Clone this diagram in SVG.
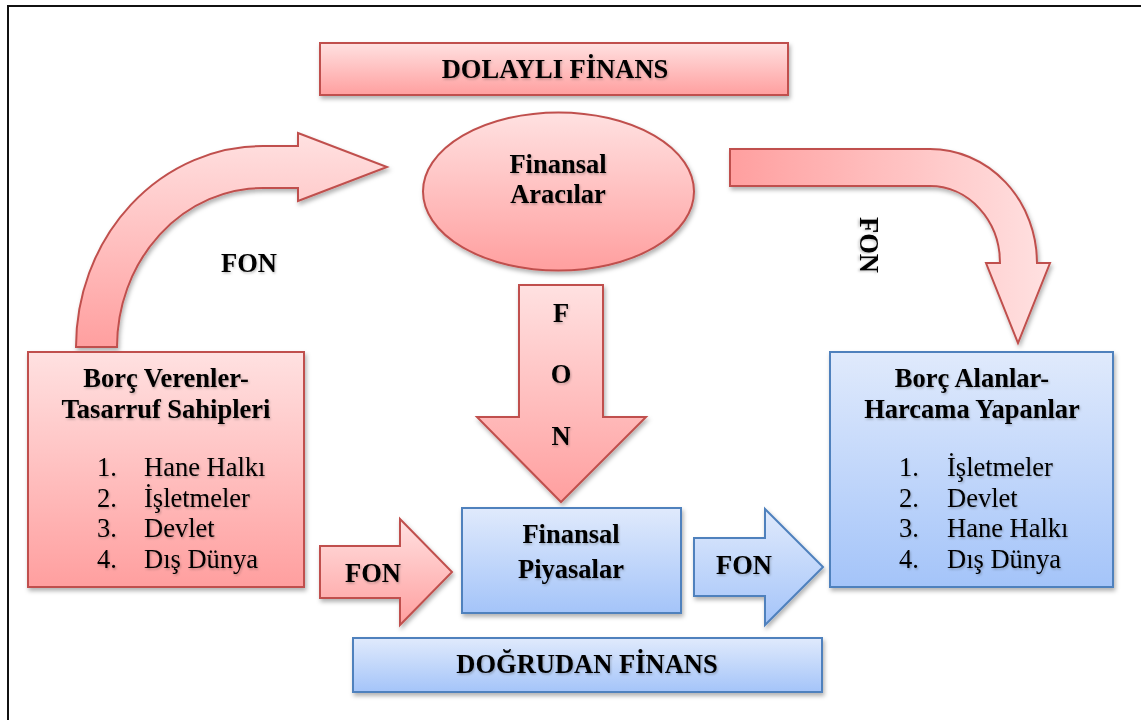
<svg xmlns="http://www.w3.org/2000/svg" width="1141" height="720" viewBox="0 0 1141 720">
<defs>
<linearGradient id="redV" x1="0" y1="0" x2="0" y2="1">
<stop offset="0" stop-color="#ffe1e1"/><stop offset="1" stop-color="#ff9f9f"/>
</linearGradient>
<linearGradient id="redH" x1="1" y1="0" x2="0" y2="0">
<stop offset="0" stop-color="#ffe1e1"/><stop offset="1" stop-color="#ff9f9f"/>
</linearGradient>
<linearGradient id="blueV" x1="0" y1="0" x2="0" y2="1">
<stop offset="0" stop-color="#e0eafc"/><stop offset="1" stop-color="#a4c4f9"/>
</linearGradient>
<filter id="sh" x="-10%" y="-10%" width="125%" height="130%">
<feDropShadow dx="1.5" dy="3" stdDeviation="2" flood-color="#000" flood-opacity="0.3"/>
</filter>
<filter id="tsh" x="-10%" y="-20%" width="130%" height="150%">
<feDropShadow dx="1" dy="1.5" stdDeviation="1" flood-color="#000" flood-opacity="0.25"/>
</filter>
</defs>
<style>
.red{fill:url(#redV);stroke:#c0504d;stroke-width:2;filter:url(#sh)}
.redh{fill:url(#redH);stroke:#c0504d;stroke-width:2;filter:url(#sh)}
.blue{fill:url(#blueV);stroke:#4f81bd;stroke-width:2;filter:url(#sh)}
.b{font-family:"Liberation Serif","Times New Roman",serif;font-weight:bold;font-size:26.5px;fill:#000;text-anchor:middle}
.t{font-family:"Liberation Serif","Times New Roman",serif;font-size:26.5px;fill:#000}
.ts{filter:url(#tsh)}
</style>
<rect width="1141" height="720" fill="#fff"/>
<g id="frame">
<line x1="7" y1="6" x2="1141" y2="6" stroke="#111" stroke-width="2"/>
<line x1="8" y1="5" x2="8" y2="720" stroke="#111" stroke-width="2"/>
</g>
<g id="connectors">
<g id="arrow-left-curved">
<path class="red" d="M76,347 A187,201 0 0 1 263,146 L298,146 L298,133 L387,167 L298,201 L298,188 L263,188 A146,159 0 0 0 117,347 Z"/>
<text class="b ts" x="249" y="272">FON</text>
</g>
<g id="arrow-right-curved">
<path class="redh" d="M730,149 L930,149 A107,114 0 0 1 1037,263 L1050,263 L1018,343 L986,263 L1000,263 A70,77 0 0 0 930,186 L730,186 Z"/>
<text class="b ts" transform="translate(860,245) rotate(90)">FON</text>
</g>
<g id="arrow-down">
<path class="red" d="M519,285 L603,285 L603,417 L646,417 L561,502 L477,417 L519,417 Z"/>
<text class="b ts" x="561" y="322">F</text>
<text class="b ts" x="561" y="383">O</text>
<text class="b ts" x="561" y="445">N</text>
</g>
<g id="arrow-left-straight">
<path class="red" d="M320,546 L400,546 L400,519 L452,572 L400,625 L400,598 L320,598 Z"/>
<text class="b ts" x="373" y="582">FON</text>
</g>
<g id="arrow-right-straight">
<path class="blue" d="M694,538 L765,538 L765,509 L823,567 L765,625 L765,596 L694,596 Z"/>
<text class="b ts" x="744" y="574">FON</text>
</g>
</g>
<g id="dolayli-finans">
<rect class="red" x="320" y="43" width="468" height="52"/>
<text class="b ts" x="555" y="78">DOLAYLI FİNANS</text>
</g>
<g id="finansal-aracilar">
<ellipse class="red" cx="558.5" cy="191.5" rx="135.5" ry="79"/>
<text class="b ts" x="558" y="173">Finansal</text>
<text class="b ts" x="558" y="203">Aracılar</text>
</g>
<g id="borc-verenler">
<rect class="red" x="28" y="352" width="276" height="235"/>
<text class="b ts" x="166" y="387">Borç Verenler-</text>
<text class="b ts" x="166" y="418">Tasarruf Sahipleri</text>
<g class="t ts">
<text x="97" y="476">1.</text><text x="144" y="476">Hane Halkı</text>
<text x="97" y="507">2.</text><text x="144" y="507">İşletmeler</text>
<text x="97" y="537">3.</text><text x="144" y="537">Devlet</text>
<text x="97" y="568">4.</text><text x="144" y="568">Dış Dünya</text>
</g>
</g>
<g id="finansal-piyasalar">
<rect class="blue" x="462" y="508" width="219" height="105"/>
<text class="b ts" x="571" y="543">Finansal</text>
<text class="b ts" x="571" y="578">Piyasalar</text>
</g>
<g id="borc-alanlar">
<rect class="blue" x="830" y="352" width="283" height="235"/>
<text class="b ts" x="972" y="387">Borç Alanlar-</text>
<text class="b ts" x="972" y="418">Harcama Yapanlar</text>
<g class="t ts">
<text x="899" y="476">1.</text><text x="947" y="476">İşletmeler</text>
<text x="899" y="507">2.</text><text x="947" y="507">Devlet</text>
<text x="899" y="537">3.</text><text x="947" y="537">Hane Halkı</text>
<text x="899" y="568">4.</text><text x="947" y="568">Dış Dünya</text>
</g>
</g>
<g id="dogrudan-finans">
<rect class="blue" x="353" y="638" width="469" height="54"/>
<text class="b ts" x="587" y="673">DOĞRUDAN FİNANS</text>
</g>
</svg>
